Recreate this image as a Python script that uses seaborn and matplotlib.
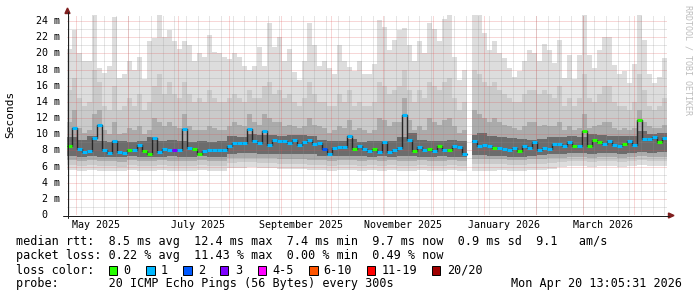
import numpy as np
import pandas as pd
import matplotlib
matplotlib.use("Agg")
import matplotlib.pyplot as plt
import matplotlib.dates as mdates
import matplotlib.transforms as mtransforms
from matplotlib.patches import Rectangle, Polygon
from matplotlib.lines import Line2D
import seaborn as sns
from datetime import datetime, timedelta

nan = np.nan

# ---------------- data ----------------
end_time = datetime(2026, 4, 20, 13, 5, 31)
span_days = 360
bin_days = 3  # 120 bins

# median RTT per 3-day bin (ms)
median_ms = [
    8.5, 10.8, 8.2, 7.8, 7.9, 9.5, 11.2, 8.0, 7.7, 9.1,
    7.8, 7.7, 8.0, 8.1, 8.7, 7.9, 7.5, 9.5, 7.8, 8.2,
    8.1, 8.0, 8.0, 10.6, 8.3, 8.2, 7.6, 7.9, 8.1, 8.1,
    8.0, 8.1, 8.5, 8.9, 8.9, 8.9, 10.6, 9.1, 8.9, 10.4,
    8.7, 9.3, 9.1, 9.1, 8.9, 9.3, 8.7, 9.0, 9.3, 8.8,
    8.9, 8.2, 7.6, 8.3, 8.4, 8.4, 9.8, 8.2, 8.5, 8.2,
    7.9, 8.2, 7.8, 9.0, 7.8, 8.0, 8.3, 12.4, 9.3, 7.9,
    8.4, 8.0, 8.2, 7.9, 8.6, 8.0, 8.0, 8.6, 8.4, 7.6,
    nan, 9.2, 8.5, 8.7, 8.5, 8.3, 8.3, 8.2, 8.0, 8.3,
    7.9, 8.5, 8.3, 9.0, 8.0, 8.3, 8.2, 8.8, 8.8, 8.6,
    9.0, 8.5, 8.5, 10.4, 8.6, 9.3, 9.0, 8.8, 9.1, 8.7,
    8.5, 8.8, 9.2, 8.7, 11.7, 9.4, 9.4, 9.6, 9.0, 9.5,
]

# loss colour class per bin (index into loss_labels)
loss_idx = [
    0, 1, 1, 1, 1, 1, 1, 1, 1, 1,
    1, 1, 0, 1, 1, 0, 0, 1, 1, 1,
    1, 3, 1, 1, 1, 0, 0, 1, 1, 1,
    1, 1, 1, 1, 1, 1, 1, 1, 1, 1,
    1, 1, 1, 1, 1, 1, 1, 1, 1, 1,
    1, 2, 1, 1, 1, 1, 1, 0, 1, 1,
    1, 0, 1, 1, 1, 1, 1, 1, 1, 0,
    1, 1, 0, 1, 0, 1, 0, 1, 1, 1,
    0, 1, 1, 1, 1, 0, 1, 1, 1, 1,
    0, 1, 1, 1, 1, 1, 1, 1, 1, 1,
    1, 0, 1, 0, 0, 0, 0, 1, 1, 1,
    1, 0, 1, 1, 0, 1, 1, 1, 0, 1,
]

# slowest ping per bin (ms)
ping_max = [
    20.5, 22.9, 20.0, 19.0, 19.0, 24.8, 18.2, 17.6, 18.5, 24.5,
    16.9, 17.5, 19.0, 18.0, 19.5, 16.8, 21.5, 21.9, 24.8, 22.0,
    22.9, 21.5, 20.5, 21.5, 21.0, 19.0, 20.0, 19.5, 22.3, 20.2,
    20.0, 19.6, 19.3, 20.0, 19.6, 18.4, 17.9, 18.5, 20.8, 18.4,
    23.8, 20.8, 22.0, 19.0, 20.5, 17.7, 16.7, 19.0, 23.8, 21.0,
    18.5, 19.0, 18.2, 17.5, 21.0, 19.0, 18.3, 17.8, 19.0, 17.5,
    17.5, 18.7, 24.1, 23.3, 20.4, 21.7, 22.9, 23.1, 21.0, 19.0,
    21.5, 20.0, 23.8, 23.0, 21.5, 24.3, 24.8, 19.5, 16.7, 18.0,
    nan, 24.8, 24.8, 22.5, 20.4, 21.5, 20.0, 19.4, 18.2, 17.1,
    17.8, 19.0, 20.4, 20.0, 19.0, 21.2, 20.4, 18.8, 21.7, 17.0,
    19.8, 16.8, 19.8, 24.8, 19.8, 18.2, 20.4, 22.0, 22.0, 18.6,
    17.4, 17.8, 16.3, 18.7, 24.8, 21.7, 17.4, 16.3, 17.1, 19.4,
]

# 18th of 20 pings (ms)
ping_p90 = [
    15.5, 17.0, 14.5, 13.5, 14.0, 18.0, 16.5, 13.5, 13.0, 16.0,
    13.0, 13.5, 14.5, 13.5, 15.0, 13.0, 14.0, 16.0, 17.5, 15.0,
    16.5, 15.0, 14.5, 16.5, 15.0, 14.0, 14.5, 14.0, 15.5, 14.5,
    14.0, 14.0, 14.5, 15.0, 14.5, 14.0, 15.5, 14.5, 14.5, 16.0,
    16.5, 15.0, 15.5, 14.5, 15.0, 14.0, 13.5, 14.5, 16.5, 15.0,
    14.0, 14.0, 13.5, 13.5, 15.0, 14.0, 15.5, 13.5, 14.0, 13.5,
    13.5, 14.0, 16.5, 16.0, 15.0, 15.5, 16.0, 18.0, 15.5, 14.0,
    15.5, 14.5, 16.5, 16.0, 15.5, 16.5, 17.0, 14.5, 13.0, 14.0,
    nan, 18.0, 17.5, 16.5, 16.0, 16.5, 15.5, 15.0, 14.5, 14.0,
    14.0, 15.0, 15.5, 15.5, 15.0, 15.5, 15.0, 14.5, 16.0, 13.5,
    14.5, 13.5, 14.5, 17.5, 14.5, 14.0, 15.0, 16.0, 16.0, 14.0,
    13.5, 13.5, 13.0, 14.0, 17.5, 15.5, 13.5, 13.0, 13.5, 14.5,
]

# 15th of 20 pings (ms)
ping_p75 = [
    11.5, 13.0, 10.8, 10.2, 10.5, 12.5, 13.0, 10.5, 10.0, 11.5,
    10.0, 10.2, 10.8, 10.5, 11.0, 10.0, 10.5, 12.0, 11.5, 11.0,
    11.5, 11.0, 10.8, 12.5, 11.0, 10.5, 10.5, 10.5, 11.0, 10.8,
    10.5, 10.5, 11.0, 11.5, 11.2, 11.0, 12.5, 11.5, 11.2, 12.5,
    12.0, 11.5, 11.5, 11.0, 11.2, 11.0, 10.8, 11.0, 12.0, 11.2,
    11.0, 10.8, 10.2, 10.5, 11.0, 10.8, 11.8, 10.5, 10.8, 10.5,
    10.2, 10.5, 12.0, 11.8, 11.0, 11.5, 11.5, 14.5, 11.8, 10.5,
    11.0, 10.5, 12.0, 11.5, 11.2, 11.8, 12.0, 11.0, 10.2, 10.5,
    nan, 13.0, 12.5, 12.0, 11.5, 12.0, 11.5, 11.2, 11.0, 10.8,
    10.5, 11.0, 11.5, 11.5, 11.0, 11.2, 11.0, 11.0, 11.5, 10.5,
    11.0, 10.5, 10.8, 12.5, 10.8, 11.0, 11.2, 11.5, 11.5, 10.8,
    10.5, 10.8, 10.5, 10.8, 13.0, 11.5, 11.0, 10.8, 10.8, 11.2,
]

# inner / lower pings at 6-day resolution (60 bins, ms)
ping_p60 = [
    9.6, 9.3, 9.8, 9.2, 9.0, 9.2, 9.0, 9.1, 9.6, 9.2,
    9.3, 9.1, 9.0, 9.2, 9.0, 9.1, 9.8, 9.7, 10.0, 9.9,
    9.9, 9.8, 9.9, 9.9, 9.8, 9.3, 9.2, 9.2, 9.4, 9.0,
    9.1, 9.2, 9.1, 9.6, 10.2, 9.3, 9.1, 9.1, 9.3, 9.1,
    9.9, 10.2, 9.8, 9.6, 9.5, 9.4, 9.3, 9.4, 9.6, 9.7,
    9.8, 9.6, 10.0, 9.9, 9.8, 9.8, 9.8, 10.4, 10.0, 10.2,
]
ping_p40 = [
    7.3, 7.2, 7.3, 7.2, 7.2, 7.2, 7.3, 7.2, 7.2, 7.2,
    7.3, 7.2, 7.2, 7.3, 7.2, 7.2, 7.6, 7.7, 7.7, 7.6,
    7.6, 7.5, 7.5, 7.5, 7.5, 7.3, 7.3, 7.3, 7.3, 7.3,
    7.2, 7.3, 7.2, 7.3, 7.3, 7.2, 7.2, 7.3, 7.2, 7.2,
    7.4, 7.4, 7.3, 7.3, 7.2, 7.2, 7.3, 7.4, 7.6, 7.6,
    7.7, 7.7, 7.6, 7.7, 7.7, 7.6, 7.7, 7.8, 7.7, 7.8,
]
ping_p25 = [
    6.8, 6.7, 6.8, 6.7, 6.7, 6.6, 6.8, 6.7, 6.7, 6.8,
    6.7, 6.7, 6.7, 6.8, 6.7, 6.7, 7.0, 7.1, 7.1, 7.0,
    7.0, 6.9, 6.9, 6.9, 6.8, 6.8, 6.7, 6.8, 6.8, 6.7,
    6.8, 6.7, 6.8, 6.7, 6.7, 6.8, 6.7, 6.7, 6.8, 6.7,
    6.9, 6.9, 6.9, 6.9, 6.8, 6.8, 6.9, 6.9, 7.0, 7.1,
    7.2, 7.2, 7.1, 7.2, 7.2, 7.1, 7.2, 7.3, 7.2, 7.2,
]
ping_p10 = [
    6.2, 6.1, 6.2, 6.1, 6.1, 6.0, 6.2, 6.1, 6.1, 6.2,
    6.1, 6.1, 6.1, 6.2, 6.1, 6.1, 6.4, 6.5, 6.5, 6.4,
    6.4, 6.3, 6.3, 6.3, 6.2, 6.2, 6.1, 6.2, 6.2, 6.1,
    6.2, 6.1, 6.2, 6.1, 6.1, 6.2, 6.1, 6.1, 6.2, 6.1,
    6.3, 6.3, 6.3, 6.3, 6.2, 6.2, 6.3, 6.3, 6.4, 6.6,
    6.7, 6.7, 6.6, 6.7, 6.7, 6.6, 6.7, 6.8, 6.7, 6.7,
]
ping_min = [
    5.6, 5.5, 5.6, 5.5, 5.5, 5.4, 5.6, 5.5, 5.5, 5.6,
    5.5, 5.5, 5.5, 5.6, 5.5, 5.5, 5.8, 5.8, 5.9, 5.8,
    5.8, 5.7, 5.7, 5.7, 5.6, 5.6, 5.5, 5.6, 5.6, 5.5,
    5.6, 5.5, 5.6, 5.5, 5.5, 5.6, 5.5, 5.5, 5.6, 5.5,
    5.5, 5.5, 5.5, 5.6, 5.5, 5.5, 5.6, 5.6, 5.7, 6.0,
    6.1, 6.1, 6.0, 6.1, 6.1, 6.0, 6.1, 6.2, 6.1, 6.1,
]

loss_labels = ["0", "1", "2", "3", "4-5", "6-10", "11-19", "20/20"]
loss_colors = ["#26ff00", "#00b8ff", "#0059ff", "#7e00ff",
               "#ff00ff", "#ff5500", "#ff0000", "#a00000"]

y_ticks = list(range(0, 25, 2))
y_tick_labels = [f"{v:>2}" + (" m" if v else "") for v in y_ticks]
label_months = [(2025, 5), (2025, 7), (2025, 9), (2025, 11), (2026, 1), (2026, 3)]

stat_lines = [
    "median rtt:  8.5 ms avg  12.4 ms max  7.4 ms min  9.7 ms now  0.9 ms sd  9.1   am/s",
    "packet loss: 0.22 % avg  11.43 % max  0.00 % min  0.49 % now",
    "loss color:",
    "probe:       20 ICMP Echo Pings (56 Bytes) every 300s",
]
stamp = "Mon Apr 20 13:05:31 2026"
watermark = "RRDTOOL / TOBI OETIKER"

# ---------------- figure ----------------
sns.set_style("white")
plt.rcParams["font.family"] = ["DejaVu Sans Mono", "DejaVu Sans"]

W, H = 697, 297
fig = plt.figure(figsize=(W / 100, H / 100), dpi=100)
fig.patch.set_facecolor("white")

X0, Y0, PW, PH = 67, 215, 600, 200
ax = fig.add_axes([X0 / W, (H - Y0) / H, PW / W, PH / H])
ax.set_facecolor("white")
for s in ax.spines.values():
    s.set_visible(False)

def fx(x):
    return x / W

def fy(y):
    return 1 - y / H

start_time = end_time - timedelta(days=span_days)
n = len(median_ms)
edges = [start_time + timedelta(days=bin_days * k) for k in range(n)] + [end_time]
xe = mdates.date2num(edges)

med = np.array(median_ms, dtype=float)
valid = ~np.isnan(med)
gap_mask = np.where(np.isnan(np.array(ping_max, dtype=float)), np.nan, 1.0)

def fine(a):
    return np.repeat(np.array(a, dtype=float), 2) * gap_mask

# contiguous runs of valid bins
runs = []
k = 0
while k < n:
    if valid[k]:
        a = k
        while k + 1 < n and valid[k + 1]:
            k += 1
        runs.append((a, k))
    k += 1

def band(lo, hi, color, z):
    lo = np.asarray(lo, dtype=float)
    hi = np.asarray(hi, dtype=float)
    for a, b in runs:
        xs = xe[a:b + 2]
        ylo = np.append(lo[a:b + 1], lo[b])
        yhi = np.append(hi[a:b + 1], hi[b])
        ax.fill_between(xs, ylo, yhi, step="post", color=color, lw=0, zorder=z)

band(fine(ping_min), ping_max, "#dddddd", 1.0)
band(fine(ping_p10), ping_p90, "#cacaca", 1.1)
band(fine(ping_p25), ping_p75, "#ababab", 1.2)
band(fine(ping_p40), fine(ping_p60), "#6c6c6c", 1.3)

# grid on top of smoke (rrdtool style dotted lines)
minor_col = (0.56, 0.56, 0.56, 0.45)
major_col = (0.87, 0.31, 0.31, 0.45)
dots = (0, (1, 1))
for v in range(1, 25):
    ax.axhline(v, color=major_col if v % 2 == 0 else minor_col,
               lw=0.72, ls=dots, zorder=3, snap=True)

# weekly minor and monthly major vertical grid
d = datetime(start_time.year, start_time.month, start_time.day) + timedelta(days=1)
while d.weekday() != 6:
    d += timedelta(days=1)
while d < end_time:
    ax.axvline(mdates.date2num(d), color=minor_col, lw=0.72, ls=dots, zorder=3, snap=True)
    d += timedelta(days=7)
y_, m_ = 2025, 5
month_starts = []
while datetime(y_, m_, 1) < end_time:
    month_starts.append(datetime(y_, m_, 1))
    m_ += 1
    if m_ > 12:
        m_, y_ = 1, y_ + 1
for ms_ in month_starts:
    ax.axvline(mdates.date2num(ms_), color=major_col, lw=0.72, ls=dots,
               zorder=3.1, snap=True)

# median: dark connecting steps (seaborn) + loss-coloured segments
rows = []
for sid, (a, b) in enumerate(runs):
    for kk in range(a, b + 1):
        rows.append((xe[kk], med[kk], sid))
    rows.append((xe[b + 1], med[b], sid))
df_med = pd.DataFrame(rows, columns=["t", "ms", "seg"])
sns.lineplot(data=df_med, x="t", y="ms", units="seg", estimator=None,
             drawstyle="steps-post", color="#262626", lw=1.0, sort=False,
             legend=False, ax=ax, zorder=4)
li = np.array(loss_idx)
ax.hlines(med[valid], xe[:-1][valid], xe[1:][valid],
          colors=[loss_colors[i] for i in li[valid]], lw=2.2, zorder=5)

ax.set_xlim(xe[0], xe[-1])
ax.set_ylim(0, PH / 8.08)
ax.set_xlabel("")
ax.set_ylabel("")
ax.set_xticks([])
ax.set_yticks(y_ticks)
ax.set_yticklabels([])
ax.tick_params(axis="y", length=2.5, width=0.72, color="#1f1f1f", direction="out")

# y tick labels (monospace, right edge at x=60 px)
ytr = mtransforms.blended_transform_factory(fig.transFigure, ax.transData)
for v, lab in zip(y_ticks, y_tick_labels):
    ax.text(fx(36), v, lab, transform=ytr, ha="left", va="center",
            fontsize=7.2, color="black", clip_on=False)

# x labels
xtr = mtransforms.blended_transform_factory(ax.transData, fig.transFigure)
for (yy, mm) in label_months:
    t = datetime(yy, mm, 1) + timedelta(days=12)
    ax.text(mdates.date2num(t), fy(224.7), datetime(yy, mm, 1).strftime("%B %Y"),
            transform=xtr, ha="center", va="center", fontsize=7.2, color="black",
            clip_on=False)

# axes lines and arrows
axis_col = "#1f1f1f"
arrow_col = "#801f1f"
fig.add_artist(Line2D([fx(67.5), fx(67.5)], [fy(218), fy(12)], color=axis_col, lw=0.72))
fig.add_artist(Line2D([fx(63), fx(669)], [fy(215.5), fy(215.5)], color=axis_col, lw=0.72))
fig.add_artist(Polygon([(fx(65), fy(13.5)), (fx(70), fy(13.5)), (fx(67.5), fy(8))],
                       closed=True, color=arrow_col, transform=fig.transFigure))
fig.add_artist(Polygon([(fx(668.5), fy(213)), (fx(668.5), fy(218)), (fx(674), fy(215.5))],
                       closed=True, color=arrow_col, transform=fig.transFigure))

# axis unit label
fig.text(fx(10.5), fy(114), "Seconds", rotation=90, ha="center", va="center",
         fontsize=8, color="black")

# watermark
fig.text(fx(688), fy(60), watermark, rotation=270, ha="center", va="center",
         fontsize=6, color="#bdbdbd")

# legend / statistics
line_y = [241, 256, 270, 284]
for txt, yy in zip(stat_lines, line_y):
    fig.text(fx(16), fy(yy), txt, ha="left", va="center", fontsize=8.5, color="black")
fig.text(fx(682), fy(284), stamp, ha="right", va="center", fontsize=8.5, color="black")

box_x = [108.5, 146, 183, 220, 257.6, 309, 367, 432]
lab_x = [123.7, 160.7, 197.8, 234.8, 272, 323.7, 381.7, 447.3]
for bx, lx, lab, col in zip(box_x, lab_x, loss_labels, loss_colors):
    fig.add_artist(Rectangle((fx(bx), fy(274.5)), 8.5 / W, 8.5 / H,
                             facecolor=col, edgecolor="black", lw=0.7,
                             transform=fig.transFigure))
    fig.text(fx(lx), fy(270), lab, ha="left", va="center", fontsize=8.5, color="black")

fig.savefig("out.png", dpi=100, facecolor="white")
